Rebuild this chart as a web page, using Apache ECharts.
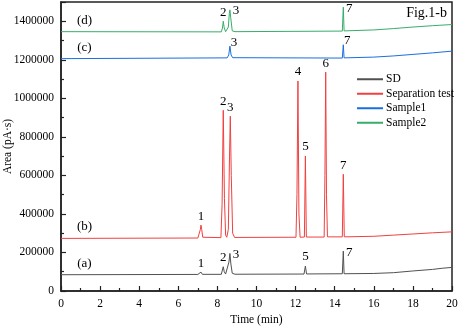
<!DOCTYPE html>
<html>
<head>
<meta charset="utf-8">
<script src="https://cdn.jsdelivr.net/npm/echarts@6/dist/echarts.min.js"></script>
<style>html,body{margin:0;padding:0;background:#fff}#c{width:459px;height:329px}</style>
</head>
<body>
<div id="c"></div>
<script>
// ---- data (time in min, area in pA·s) ----
var seriesNames = ['SD', 'Separation test', 'Sample1', 'Sample2'];
var traceTags = ['(a)', '(b)', '(c)', '(d)'];
var tagAnchors = [[1.2, 86000], [1.2, 275000], [1.2, 1207000], [1.2, 1347000]];

var sdData = [[0,84500],[7.0,86000],[7.1,86500],[7.16,98000],[7.23,86500],[8.2,86500],[8.26,96000],[8.30,126000],[8.35,100000],[8.42,88000],[8.52,92000],[8.59,150000],[8.64,195000],[8.69,140000],[8.76,92000],[8.9,87000],[12.43,88000],[12.50,129500],[12.56,88500],[14.39,89500],[14.44,207000],[14.48,89600],[16,91000],[17,95000],[18,104000],[19,112000],[19.5,118000],[20,122500]];
var sepData = [[0,273000],[7.0,275000],[7.09,280000],[7.13,320000],[7.16,342000],[7.2,318000],[7.25,279000],[7.35,276000],[8.18,277000],[8.24,450000],[8.30,938000],[8.36,480000],[8.42,290000],[8.48,279000],[8.56,320000],[8.62,700000],[8.66,907000],[8.71,600000],[8.78,300000],[8.88,278000],[12.02,279000],[12.07,500000],[12.12,1090000],[12.17,400000],[12.23,279000],[12.45,280000],[12.50,701000],[12.55,280000],[13.46,280000],[13.50,600000],[13.54,1136000],[13.58,500000],[13.63,281000],[14.39,281000],[14.44,606000],[14.49,281000],[16,284000],[17,290000],[18,296000],[19,302000],[20,307000]];
var s1Data = [[0,1206000],[8.5,1210000],[8.58,1225000],[8.64,1271000],[8.70,1225000],[8.78,1211000],[14.39,1209000],[14.44,1278000],[14.48,1210000],[16,1214000],[17,1220000],[18,1228000],[19,1236000],[20,1245000]];
var s2Data = [[0,1346000],[8.2,1345000],[8.26,1365000],[8.30,1400000],[8.35,1365000],[8.42,1346000],[8.56,1370000],[8.61,1440000],[8.64,1459000],[8.68,1420000],[8.76,1350000],[8.9,1346000],[14.39,1349000],[14.44,1473000],[14.48,1350000],[16,1355000],[17,1362000],[18,1370000],[19,1377000],[20,1383000]];

// peak labels: [text, time, apex]
var sdPeaks = [['1',7.16,98000],['2',8.30,126000],['3',8.64,195000],['5',12.50,129500],['7',14.44,207000]];
var sepPeaks = [['1',7.16,342000],['2',8.30,938000],['3',8.66,907000],['4',12.12,1090000],['5',12.50,701000],['6',13.54,1136000],['7',14.44,606000]];
var s1Peaks = [['3',8.64,1271000],['7',14.44,1278000]];
var s2Peaks = [['2',8.30,1400000],['3',8.64,1459000],['7',14.44,1473000]];

var xTicks = [0,2,4,6,8,10,12,14,16,18,20];
var yTicks = [0,200000,400000,600000,800000,1000000,1200000,1400000];

// ---- styling ----
var FONT = 'Liberation Serif';
var colors = ['#515151', '#F14040', '#1A6FDF', '#37AD6B'];
// labels placed to the right of the apex (series index + label)
var rightSide = {'0-3': true, '0-7': true, '3-3': true, '3-7': true, '2-7': true, '2-3': true};

function peakMarks(si, peaks) {
  var items = peaks.map(function (p) {
    var right = rightSide[si + '-' + p[0]];
    var off = right ? [6, 1] : [0, -9];
    if (si === 2 && right) off = [4, -4];
    return {coord: [p[1], p[2]], value: p[0], label: {offset: off}};
  });
  items.push({coord: tagAnchors[si], value: traceTags[si], label: {offset: [0, -11], fontSize: 13}});
  return {
    symbol: 'circle', symbolSize: 0, silent: true, animation: false,
    label: {show: true, position: 'inside', color: '#000', fontFamily: FONT, fontSize: 13,
            formatter: function (d) { return d.value; }},
    data: items
  };
}

var datasets = [sdData, sepData, s1Data, s2Data];
var peakSets = [sdPeaks, sepPeaks, s1Peaks, s2Peaks];

var chart = echarts.init(document.getElementById('c'), null, {renderer: 'canvas'});
var axisCommon = {
  axisLine: {show: true, lineStyle: {color: '#222', width: 1.5}},
  axisTick: {show: true, inside: true, length: 5, lineStyle: {color: '#222', width: 1.2}},
  minorTick: {show: true, splitNumber: 2, length: 3, lineStyle: {color: '#222', width: 1.2}},
  splitLine: {show: false},
  axisLabel: {color: '#000', fontFamily: FONT, fontSize: 11.5},
  nameTextStyle: {color: '#000', fontFamily: FONT, fontSize: 11.5}
};

chart.setOption({
  animation: false,
  backgroundColor: '#fff',
  grid: {left: 61, right: 7, top: 2, bottom: 38, containLabel: false, outerBoundsMode: 'none',
         show: true, borderColor: '#222', borderWidth: 1.5, backgroundColor: 'transparent'},
  legend: {
    orient: 'vertical', left: 352, top: 68, itemWidth: 26, itemHeight: 2, itemGap: 2,
    icon: 'rect',
    textStyle: {fontFamily: FONT, fontSize: 11.5, color: '#000', lineHeight: 12.5, padding: [0,0,0,-2]},
    data: seriesNames
  },
  xAxis: Object.assign({}, axisCommon, {
    type: 'value', min: 0, max: 20, interval: 2,
    name: 'Time (min)', nameLocation: 'middle', nameGap: 23, nameMoveOverlap: false,
    axisLabel: Object.assign({}, axisCommon.axisLabel, {margin: 7})
  }),
  yAxis: Object.assign({}, axisCommon, {
    type: 'value', min: 0, max: 1500000, interval: 200000,
    name: 'Area (pA·s)', nameLocation: 'middle', nameGap: 47, nameMoveOverlap: false,
    axisLabel: Object.assign({}, axisCommon.axisLabel, {margin: 7,
      formatter: function (v) { return yTicks.indexOf(v) >= 0 ? String(v) : ''; }})
  }),
  graphic: [{
    type: 'text', right: 12, top: 6,
    style: {text: 'Fig.1-b', font: '14px "' + FONT + '"', fill: '#000'}
  }],
  series: datasets.map(function (d, i) {
    return {
      name: seriesNames[i], type: 'line', data: d, color: colors[i],
      showSymbol: false, symbol: 'none', smooth: false,
      lineStyle: {width: 1, color: colors[i]},
      markPoint: peakMarks(i, peakSets[i])
    };
  })
});
</script>
</body>
</html>
